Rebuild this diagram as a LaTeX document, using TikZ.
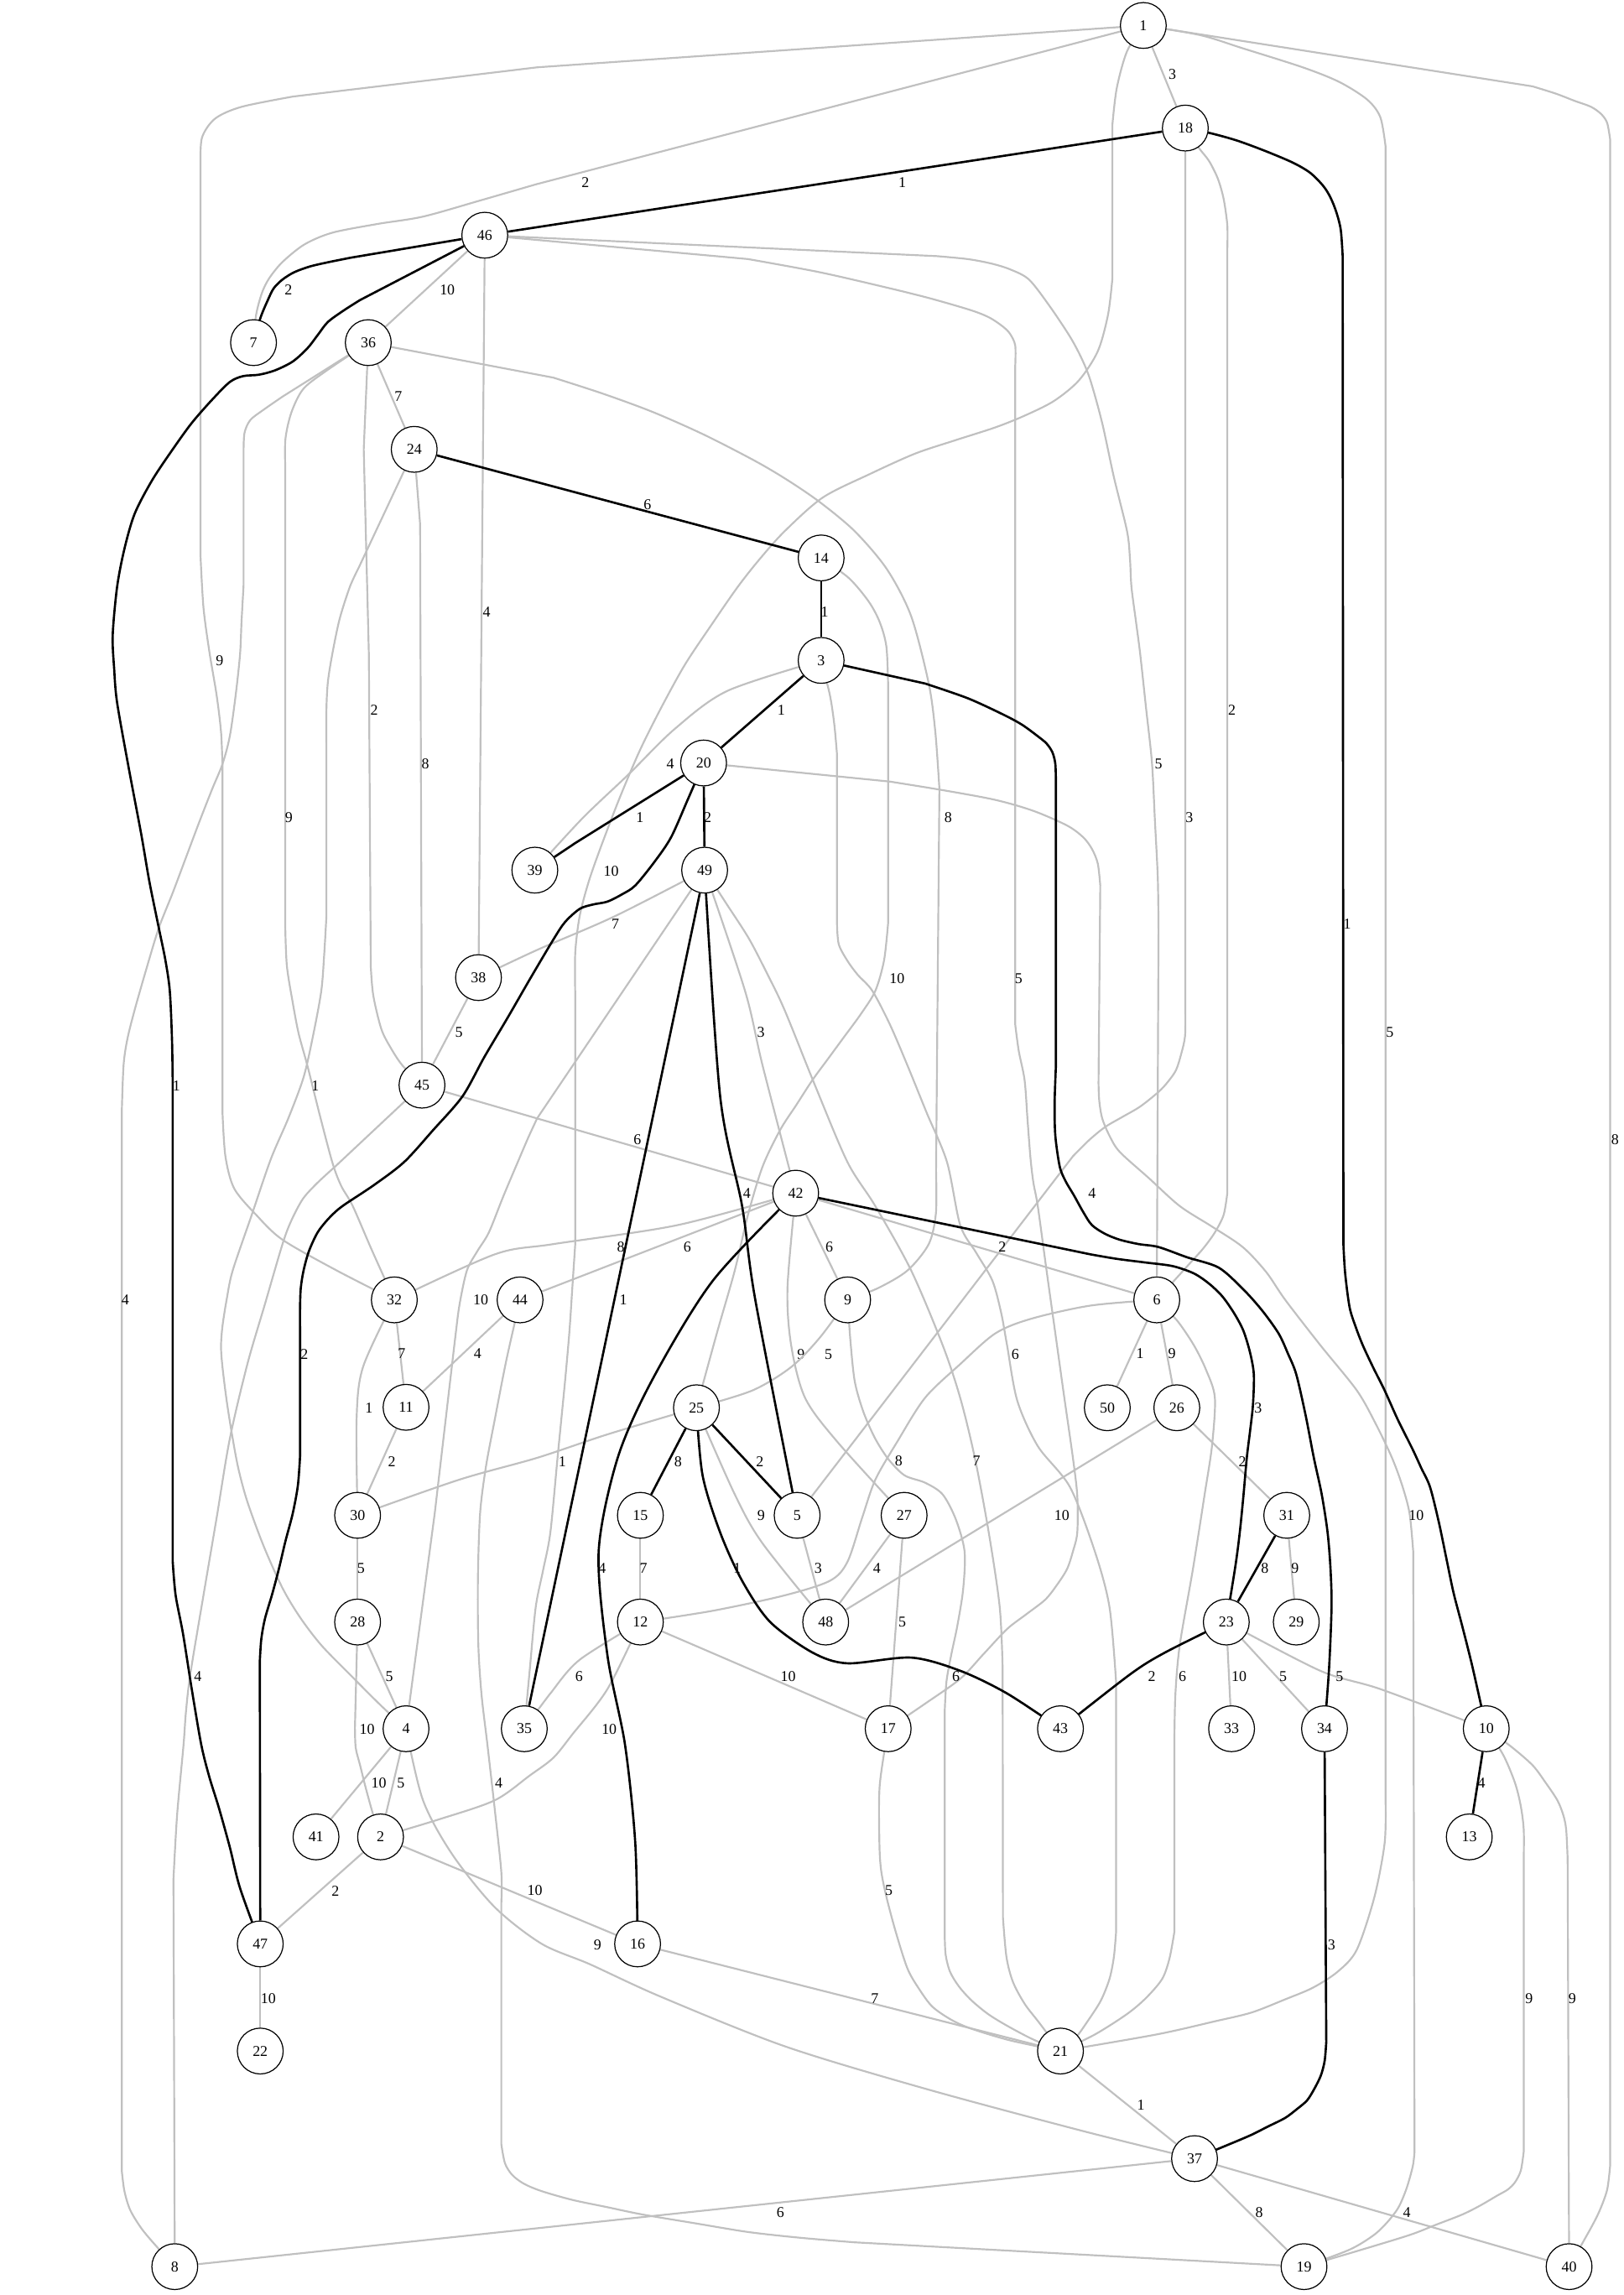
\documentclass[tikz,border=0pt]{standalone}
\usepackage{fontspec}
\setmainfont{Liberation Serif}
\usetikzlibrary{backgrounds}
\definecolor{edgegray}{RGB}{192,192,192}
\tikzset{
  vtx/.style={circle, draw=black, line width=0.35pt, fill=white, minimum size=0.546cm, inner sep=0pt, font=\fontsize{5.1}{6}\selectfont},
  ge/.style={draw=edgegray, line width=0.62pt, line join=round},
  be/.style={draw=black, line width=0.75pt, line join=round},
  lbl/.style={font=\fontsize{5.1}{6}\selectfont, inner sep=0pt},
  sm/.style={smooth, tension=0.5}
}
\begin{document}
\begin{tikzpicture}[x=0.017448cm, y=-0.017448cm]
\useasboundingbox (0,0) rectangle (1109,1568);
% ---------------- nodes
\node[vtx] (n1) at (781.1,17.4) {1};
\node[vtx] (n18) at (809.8,87.5) {18};
\node[vtx] (n46) at (331.2,160.7) {46};
\node[vtx] (n7) at (173.2,234.1) {7};
\node[vtx] (n36) at (251.6,234.1) {36};
\node[vtx] (n24) at (283,307) {24};
\node[vtx] (n14) at (561,381.2) {14};
\node[vtx] (n3) at (561,451.2) {3};
\node[vtx] (n20) at (480.7,521.3) {20};
\node[vtx] (n39) at (365.4,594.5) {39};
\node[vtx] (n49) at (481.4,594.5) {49};
\node[vtx] (n38) at (326.9,667.9) {38};
\node[vtx] (n45) at (288.3,741.4) {45};
\node[vtx] (n42) at (543.6,815.2) {42};
\node[vtx] (n32) at (269.4,888.1) {32};
\node[vtx] (n44) at (355.3,888.1) {44};
\node[vtx] (n9) at (579.1,888.1) {9};
\node[vtx] (n6) at (790.3,888.1) {6};
\node[vtx] (n11) at (277.4,961.5) {11};
\node[vtx] (n25) at (475.8,961.8) {25};
\node[vtx] (n50) at (756.5,961.8) {50};
\node[vtx] (n26) at (804,961.8) {26};
\node[vtx] (n30) at (244.3,1035.3) {30};
\node[vtx] (n15) at (437.5,1035.3) {15};
\node[vtx] (n5) at (544.6,1035.3) {5};
\node[vtx] (n27) at (617.7,1035.3) {27};
\node[vtx] (n31) at (879.1,1035.3) {31};
\node[vtx] (n28) at (244.3,1108.2) {28};
\node[vtx] (n12) at (437.5,1108.2) {12};
\node[vtx] (n48) at (564.1,1108.2) {48};
\node[vtx] (n23) at (837.8,1108.2) {23};
\node[vtx] (n29) at (885.6,1108.2) {29};
\node[vtx] (n4) at (277.4,1181.1) {4};
\node[vtx] (n35) at (358.2,1181.1) {35};
\node[vtx] (n17) at (606.8,1181.1) {17};
\node[vtx] (n43) at (724.5,1181.1) {43};
\node[vtx] (n33) at (841.4,1181.1) {33};
\node[vtx] (n34) at (904.9,1181.1) {34};
\node[vtx] (n10) at (1015.4,1181.1) {10};
\node[vtx] (n41) at (215.9,1255) {41};
\node[vtx] (n2) at (260,1255) {2};
\node[vtx] (n13) at (1003.8,1255) {13};
\node[vtx] (n47) at (177.8,1328.1) {47};
\node[vtx] (n16) at (435.6,1328.1) {16};
\node[vtx] (n22) at (177.8,1401.3) {22};
\node[vtx] (n21) at (724.5,1401.3) {21};
\node[vtx] (n37) at (816.1,1474.8) {37};
\node[vtx] (n8) at (119.4,1548.6) {8};
\node[vtx] (n19) at (890.9,1548.6) {19};
\node[vtx] (n40) at (1072,1548.6) {40};
% ---------------- edges
\begin{scope}[on background layer]
% ===== gray edges
\draw[ge] (n1) -- (n18) node[lbl,at={(801,51)}]{3};
\draw[ge] (n1) -- (366,126) --plot[sm] coordinates {(366,126) (328,137) (289,148) (258,153) (227,159) (208,167) (193,179) (184,190) (179,200) (175,215) (n7)} node[lbl,at={(400,124.6)}]{2};
\draw[ge] (n1) -- (367,46) -- (200,66) --plot[sm] coordinates {(200,66) (165,73) (147,81) (138,94) (137,112)} -- (137,380) --plot[sm] coordinates {(137,380) (139,415) (143,445) (148,475) (151,500) (152,523)} -- (152,760) --plot[sm] coordinates {(152,760) (154,790) (160,812) (175,830) (193,847) (230,868) (n32)} node[lbl,at={(150,451.3)}]{9};
\draw[ge] plot[sm] coordinates {(n1) (770,35) (763,60) (760,85)} -- (760,190) --plot[sm] coordinates {(760,190) (757,215) (750,240) (737,260) (720,274) (700,284) (680,292) (652,301) (625,310) (594,324) (562,340) (536,363) (519,382) (504,401) (486,427) (468,454) (452,483) (437,513) (423,546) (410,580) (402,603) (396,626) (393,651) (393,680)} -- (393,850) --plot[sm] coordinates {(393,850) (391,880) (389,910) (386,944) (381,995) (376,1047) (371,1073) (366,1098) (362,1140) (n35)} node[lbl,at={(417.5,595.1)}]{10};
\draw[ge] plot[sm] coordinates {(n1) (820,24) (849,33) (890,46) (915,56) (934,68) (943,80) (946.6,100)} -- (946.6,1230) --plot[sm] coordinates {(946.6,1230) (946,1259) (939,1296) (927,1332) (914,1347) (897,1358) (878,1366) (855,1375) (830,1381) (790,1390) (n21)} node[lbl,at={(949.5,705.1)}]{5};
\draw[ge] (n1) -- (1047,59) --plot[sm] coordinates {(1047,59) (1063,64) (1076,69) (1087,73) (1094,78) (1098,84) (1100,95)} -- (1100,1480) --plot[sm] coordinates {(1100,1480) (1098,1496) (1093,1510) (1087,1522) (n40)} node[lbl,at={(1103.4,778.6)}]{8};
\draw[ge] plot[sm] coordinates {(n18) (819,101) (826,110) (832,122) (836,136) (838.5,154) (838.5,170)} -- (838.5,815) --plot[sm] coordinates {(838.5,815) (836,830) (830,842) (822,853) (813,863) (n6)} node[lbl,at={(841.7,485.1)}]{2};
\draw[ge] (n18) -- (809.8,690) --plot[sm] coordinates {(809.8,690) (809.6,708) (807,720) (803.5,731) (798,739) (791.5,746) (779,756) (767,763) (755,770) (744,779) (733,790)} -- (n5) node[lbl,at={(812.5,558.5)}]{3};
\draw[ge] (n46) -- (n36) node[lbl,at={(305.6,197.8)}]{10};
\draw[ge] (n46) -- (n38) node[lbl,at={(332.4,418)}]{4};
\draw[ge] (n46) -- (511,177) --plot[sm] coordinates {(511,177) (560,186) (608,197) (636,204) (663.5,212) (676,217) (685,223) (690,228) (693.6,236) (693.6,250)} -- (693.6,700) --plot[sm] coordinates {(693.6,700) (696,718) (700,738) (702,765) (704,791) (706,808) (709,824) (715,868) (721,911) (727,954) (733,996) (736,1022) (736,1047) (733,1060) (729,1072) (722,1083) (714,1093) (701,1103) (688,1113) (672,1130) (656,1147) (632,1164) (n17)} node[lbl,at={(696,668.8)}]{5};
\draw[ge] (n46) -- (640,175) --plot[sm] coordinates {(640,175) (661,177) (677,180) (690,184) (703,191) (717,209) (731,230) (739,245) (745,260) (753,289) (761,326) (770,363) (772,382) (773,401) (776,424) (779,447) (783,484) (787,521) (789,560) (791,600) (791.5,636)} -- (n6) node[lbl,at={(791.5,521.7)}]{5};
\draw[ge] (n36) -- (n24) node[lbl,at={(272.1,270.7)}]{7};
\draw[ge] (n36) -- (248.5,307) -- (252,447) -- (253.3,660) --plot[sm] coordinates {(253.3,660) (255,680) (260.5,703) (267,716) (275,728) (n45)} node[lbl,at={(255.7,485.1)}]{2};
\draw[ge] (n36) -- (193,271) --plot[sm] coordinates {(193,271) (180,280) (171,287) (167,296) (166.4,310)} -- (166.4,400) --plot[sm] coordinates {(166.4,400) (165,425) (164,447) (161,475) (157,503) (152,522) (145,539) (136,562) (127,586) (118,610) (108.5,634) (100,662) (92,690) (87,710) (84.4,728) (83.2,760)} -- (83.2,1483) --plot[sm] coordinates {(83.2,1483) (85,1497) (89,1510) (97,1523) (108,1536) (n8)} node[lbl,at={(85.6,888.1)}]{4};
\draw[ge] plot[sm] coordinates {(n36) (222,254) (207,266) (199,282) (195,300) (194.9,320)} -- (194.9,634) --plot[sm] coordinates {(194.9,634) (196,660) (200,685) (204,706) (210,728) (218,760) (227,794) (233,810) (241,824) (254,854) (n32)} node[lbl,at={(197.3,558.5)}]{9};
\draw[ge] (n36) -- (378,258) --plot[sm] coordinates {(378,258) (412,269) (446,281.5) (481,297) (516,315) (538,328) (560,343) (584,363) (606,389) (622.5,421) (634.5,467) (639,500) (641.8,539)} -- (639.5,800) --plot[sm] coordinates {(639.5,800) (639.4,829) (634.5,850) (620,868) (600,880) (n9)} node[lbl,at={(647.8,558.5)}]{8};
\draw[ge] (n24) -- (287,358) -- (n45) node[lbl,at={(290.6,521.7)}]{8};
\draw[ge] (n24) -- (245,388) --plot[sm] coordinates {(245,388) (239,401) (232,423) (227,447) (224,466) (223,485) (223,510)} -- (223,626) --plot[sm] coordinates {(223,626) (221.5,652) (219.5,677) (214,707) (207.4,736) (197,764) (185,792) (172,830) (159,868) (155,887) (152,906) (151,920) (152,934) (155,958) (159,983) (163,1004) (169,1026) (180,1056) (193,1085) (205,1105) (219.5,1124) (240,1145) (260,1165) (n4)} node[lbl,at={(215.4,742.2)}]{1};
\draw[ge] plot[sm] coordinates {(n14) (580,395) (593.5,411) (601,425) (605.6,442) (606.8,470)} -- (606.8,630) --plot[sm] coordinates {(606.8,630) (604,656) (598,677) (588,693) (577,708) (566,723) (555,738) (544,755) (533,772) (521,797) (511,830) (502,868) (490,910) (n25)} node[lbl,at={(612.8,668.8)}]{10};
\draw[ge] plot[sm] coordinates {(n3) (497,472) (461,498) (429.5,529) (398,559) (n39)} node[lbl,at={(458,521.7)}]{4};
\draw[ge] plot[sm] coordinates {(n3) (567,475) (570,495) (571.8,515)} -- (571.8,630) --plot[sm] coordinates {(571.8,630) (573,645) (579,656.5) (586,666) (596,677) (608,700) (620,728) (633,760) (647,794) (656,837) (667,856) (678,875) (684,897) (688,919) (695,957) (709,988) (731,1016) (748,1060) (758,1098) (762.5,1149)} -- (762.5,1320) --plot[sm] coordinates {(762.5,1320) (761,1337) (758,1352) (752,1367) (743,1381) (735,1392) (n21)} node[lbl,at={(693.6,925.2)}]{6};
\draw[ge] (n20) -- (608,534) --plot[sm] coordinates {(608,534) (645,540) (680,546.5) (706,554) (729,564) (740,572) (746,580) (750,590) (751.7,605)} -- (750.5,740) --plot[sm] coordinates {(750.5,740) (751,752) (753,764) (758,776) (765,787) (785,805) (806,824) (828,838) (849,852) (865,869) (878,888) (902,919) (927,950) (940,973) (951,996) (958,1015) (963,1034) (965.5,1060)} -- (966.4,1470) --plot[sm] coordinates {(966.4,1470) (965.2,1480) (961,1495) (955.5,1508) (948,1518) (938.6,1527) (922,1537) (n19)} node[lbl,at={(967.6,1035.3)}]{10};
\draw[ge] plot[sm] coordinates {(n49) (420,626) (367,649) (n38)} node[lbl,at={(420.4,631.4)}]{7};
\draw[ge] (n49) -- (367,764) --plot[sm] coordinates {(367,764) (361,777) (355,791) (344,817) (334,842) (326,855) (319,868) (314,891) (311,914) (304,974) (297,1034)} -- (n4) node[lbl,at={(328.5,888.1)}]{10};
\draw[ge] plot[sm] coordinates {(n49) (509,677) (521,728) (n42)} node[lbl,at={(519.9,705.1)}]{3};
\draw[ge] plot[sm] coordinates {(n49) (496,617) (511.5,641) (524,665) (536,690) (557,742) (579,794) (598,824) (622.5,868) (644,919) (656,955) (666,996) (675.5,1047) (683,1098) (685,1140)} -- (685.2,1310) --plot[sm] coordinates {(685.2,1310) (687.6,1337) (692,1354) (700,1369) (710,1382) (n21)} node[lbl,at={(667.1,998.2)}]{7};
\draw[ge] (n38) -- (n45) node[lbl,at={(313.6,705.1)}]{5};
\draw[ge] (n45) -- (n42) node[lbl,at={(435.5,778.6)}]{6};
\draw[ge] (n45) -- (229,797) --plot[sm] coordinates {(229,797) (217,808) (207,819) (199,834) (193,850) (181,891) (169,932) (157,983) (148,1037) (139,1090) (130,1144) (127,1170) (125.4,1192) (121,1240) (118.5,1284)} -- (n8) node[lbl,at={(135.1,1145.3)}]{4};
\draw[ge] plot[sm] coordinates {(n42) (463,837) (378,850) (338,857) (n32)} node[lbl,at={(424.1,852)}]{8};
\draw[ge] (n42) -- (n44) node[lbl,at={(469.6,852)}]{6};
\draw[ge] (n42) -- (n9) node[lbl,at={(566.5,851.8)}]{6};
\draw[ge] (n42) -- (n6) node[lbl,at={(684.7,851.8)}]{2};
\draw[ge] plot[sm] coordinates {(n42) (538,880) (540.5,919) (550,955) (572,985) (n27)} node[lbl,at={(547.2,925.2)}]{9};
\draw[ge] (n44) -- (n11) node[lbl,at={(326.3,924.7)}]{4};
\draw[ge] plot[sm] coordinates {(n44) (346,929) (338,970) (332,1002) (328,1034) (326.5,1079) (326.8,1124) (329,1158) (333,1192) (338,1236) (342.5,1279) (342.5,1300)} -- (342.5,1465) --plot[sm] coordinates {(342.5,1465) (345,1478) (350,1486) (358,1492) (370,1497) (391,1503) (415,1508) (439,1513) (475,1519) (511.5,1525) (548,1529) (584,1532)} -- (n19) node[lbl,at={(340.8,1218)}]{4};
\draw[ge] (n32) -- (n11) node[lbl,at={(274.5,924.7)}]{7};
\draw[ge] plot[sm] coordinates {(n32) (248,934) (243.6,970) (n30)} node[lbl,at={(252.1,961.8)}]{1};
\draw[ge] (n11) -- (n30) node[lbl,at={(267.7,998.7)}]{2};
\draw[ge] (n30) -- (n28) node[lbl,at={(246.7,1071.6)}]{5};
\draw[ge] (n28) -- (n4) node[lbl,at={(266,1145.3)}]{5};
\draw[ge] (n28) -- (242.5,1180) --plot[sm] coordinates {(242.5,1180) (243,1194) (246,1206) (250,1222) (255,1240) (n2)} node[lbl,at={(250.8,1181.7)}]{10};
\draw[ge] (n4) -- (n41) node[lbl,at={(258.8,1218)}]{10};
\draw[ge] (n4) -- (n2) node[lbl,at={(273.8,1218)}]{5};
\draw[ge] plot[sm] coordinates {(n4) (289,1230) (309,1267) (338,1303) (370,1328) (403,1342) (451,1364) (536,1398) (632,1427) (740,1456) (n37)} node[lbl,at={(408.3,1328.8)}]{9};
\draw[ge] plot[sm] coordinates {(n12) (396,1134) (376,1157) (n35)} node[lbl,at={(395.7,1145.3)}]{6};
\draw[ge] (n12) -- (n17) node[lbl,at={(538.5,1145.3)}]{10};
\draw[ge] plot[sm] coordinates {(n12) (415,1154) (391,1185) (378,1201) (362,1213) (338,1230) (300,1243) (n2)} node[lbl,at={(416.2,1181.7)}]{10};
\draw[ge] (n15) -- (n12) node[lbl,at={(439.6,1071.6)}]{7};
\draw[ge] plot[sm] coordinates {(n9) (560,914) (540.5,934) (514,950) (n25)} node[lbl,at={(566,925.2)}]{5};
\draw[ge] plot[sm] coordinates {(n25) (415,980) (367,996) (313.6,1011) (n30)} node[lbl,at={(384.2,998.7)}]{1};
\draw[ge] plot[sm] coordinates {(n25) (502,1021) (521,1054.5) (n48)} node[lbl,at={(520,1035.3)}]{9};
\draw[ge] (n5) -- (n48) node[lbl,at={(559,1071.6)}]{3};
\draw[ge] (n27) -- (n48) node[lbl,at={(599.1,1071.6)}]{4};
\draw[ge] (n27) -- (n17) node[lbl,at={(616.4,1108.2)}]{5};
\draw[ge] (n26) -- (n48) node[lbl,at={(725.5,1035.3)}]{10};
\draw[ge] (n26) -- (n31) node[lbl,at={(848.8,998.7)}]{2};
\draw[ge] (n6) -- (n50) node[lbl,at={(778.9,924.7)}]{1};
\draw[ge] (n6) -- (n26) node[lbl,at={(800.7,924.7)}]{9};
\draw[ge] plot[sm] coordinates {(n6) (745,892) (704.5,901) (680,911) (656,932) (632,955) (613,985) (598,1011) (589,1037) (579,1067) (567,1080) (536,1090) (487,1100.5) (n12)} node[lbl,at={(614,998.2)}]{8};
\draw[ge] plot[sm] coordinates {(n6) (804,902) (815.6,919) (824,936) (830,955) (828,988) (823,1021) (815,1072) (806,1124) (803,1158) (802.3,1192)} -- (802.3,1320) --plot[sm] coordinates {(802.3,1320) (799,1338) (794,1352) (783,1365) (770,1376) (748,1390) (n21)} node[lbl,at={(807.9,1145.3)}]{6};
\draw[ge] plot[sm] coordinates {(n9) (581,916) (584,944) (590,965) (598,983) (607,997) (618,1008) (632,1013) (644,1021) (653,1038) (659,1060) (658,1086) (654,1111) (650,1130) (646.6,1149) (645.4,1170)} -- (645.4,1320) --plot[sm] coordinates {(645.4,1320) (646,1335) (649,1347) (655,1357) (663.5,1366.5) (675,1376) (688,1384) (705,1393) (n21)} node[lbl,at={(653.1,1145.3)}]{6};
\draw[ge] (n31) -- (n29) node[lbl,at={(884.8,1071.6)}]{9};
\draw[ge] (n23) -- (n33) node[lbl,at={(846.5,1145.3)}]{10};
\draw[ge] (n23) -- (n34) node[lbl,at={(876.6,1145.3)}]{5};
\draw[ge] plot[sm] coordinates {(n23) (902,1141.5) (943,1154) (n10)} node[lbl,at={(915.2,1145.3)}]{5};
\draw[ge] plot[sm] coordinates {(n10) (1027,1199) (1035,1218) (1039,1234) (1041,1250) (1041,1270)} -- (1041,1470) --plot[sm] coordinates {(1041,1470) (1039,1483) (1035,1491) (1030,1496) (1023,1500) (1011,1507) (999,1513) (981,1520) (963,1527) (927,1538) (n19)} node[lbl,at={(1044.7,1365.3)}]{9};
\draw[ge] plot[sm] coordinates {(n10) (1032,1193) (1047,1206) (1056,1218) (1064,1230) (1068,1240) (1070,1250) (1071,1270)} -- (n40) node[lbl,at={(1074.2,1365.3)}]{9};
\draw[ge] (n2) -- (n47) node[lbl,at={(229.1,1291.8)}]{2};
\draw[ge] (n2) -- (n16) node[lbl,at={(365.4,1291.8)}]{10};
\draw[ge] (n47) -- (n22) node[lbl,at={(183.3,1365.3)}]{10};
\draw[ge] plot[sm] coordinates {(n17) (601,1220) (600.8,1259) (602,1278) (605.6,1296) (612,1320) (620,1345) (628,1359) (637,1371) (650,1380) (663.5,1386) (690,1394) (n21)} node[lbl,at={(607.3,1291.8)}]{5};
\draw[ge] (n16) -- (n21) node[lbl,at={(597.6,1365.3)}]{7};
\draw[ge] (n21) -- (n37) node[lbl,at={(779.4,1438.3)}]{1};
\draw[ge] (n37) -- (n8) node[lbl,at={(533.2,1511.8)}]{6};
\draw[ge] (n37) -- (n19) node[lbl,at={(860.2,1511.8)}]{8};
\draw[ge] (n37) -- (n40) node[lbl,at={(961.1,1511.8)}]{4};
% ===== black edges
\draw[be] (n18) -- (n46) node[lbl,at={(616.4,124.6)}]{1};
\draw[be] plot[sm] coordinates {(n18) (827,91) (845,96) (864,103) (883,111) (895,118) (904,127) (909,135) (913,145) (916,157) (917.3,175)} -- (917.8,850) --plot[sm] coordinates {(917.8,850) (919,870) (922,893) (926,906) (931,919) (938,934) (946,950) (955,970) (965,990) (971,1003) (977,1016) (983,1040) (988,1064) (993,1088) (999,1111) (1006,1139) (n10)} node[lbl,at={(920.5,631.4)}]{1};
\draw[be] (n46) -- (240,176) --plot[sm] coordinates {(240,176) (225,179) (212,182) (201,186) (193,191) (187,197) (183,205) (178,217) (n7)} node[lbl,at={(197,197.8)}]{2};
\draw[be] (n46) -- (246,205) --plot[sm] coordinates {(246,205) (235,212) (224,220) (217,229) (210,238) (200,247) (188,253) (177,256) (166,257) (157,261) (145,273) (131,289) (118,307) (104,328) (92,351) (85,375) (80,401) (77,434) (78,457) (80,480) (88,525) (96.5,570) (102,602) (108.5,634) (113,656) (116,677) (117.5,710) (118,740)} -- (118,1067) --plot[sm] coordinates {(118,1067) (120,1090) (125,1116) (131,1154) (137.5,1192) (143,1214) (149.5,1235) (157,1262) (164,1290) (n47)} node[lbl,at={(120.6,742.2)}]{1};
\draw[be] (n24) -- (n14) node[lbl,at={(442.3,345)}]{6};
\draw[be] (n14) -- (n3) node[lbl,at={(563.4,418)}]{1};
\draw[be] (n3) -- (n20) node[lbl,at={(533.7,485.1)}]{1};
\draw[be] (n3) -- (632,467) --plot[sm] coordinates {(632,467) (661,477) (685,488) (698,495) (709,503) (715,508) (719,514) (721,522) (721.4,535)} -- (721.4,728) --plot[sm] coordinates {(721.4,728) (720.5,754) (721,776) (724,797) (728,807) (733.6,816.5) (740,828) (746,837) (755,843) (765,847) (778,850) (791.5,852) (811,859) (832.5,866) (849,880.5) (862,895) (873.5,911) (880,925) (885.6,939) (892,967) (897.6,996) (903,1021) (907,1047) (909,1072) (909.7,1098) (908,1140) (n34)} node[lbl,at={(746.1,815.2)}]{4};
\draw[be] (n20) -- (393,576) -- (n39) node[lbl,at={(437.2,558.5)}]{1};
\draw[be] (n20) -- (n49) node[lbl,at={(483.5,558.5)}]{2};
\draw[be] plot[sm] coordinates {(n20) (470,546) (458.5,572) (447,589) (434,605) (425,611) (415,616) (405,618) (396,621) (386,630) (378,642) (362,669) (347,695) (331,722) (316,749) (296,772) (276,794) (255,810) (234,824) (225,832) (217,842) (211,855) (207.4,868) (205.5,880) (205,893) (205,910)} -- (205,995) --plot[sm] coordinates {(205,995) (203.5,1015) (200,1034) (195,1053) (190.5,1072) (186,1089) (181,1106) (178.5,1120) (177.5,1135)} -- (n47) node[lbl,at={(207.9,925.2)}]{2};
\draw[be] (n49) -- (n35) node[lbl,at={(425.9,888.1)}]{1};
\draw[be] plot[sm] coordinates {(n49) (492,749) (507,824) (516,888) (n5)} node[lbl,at={(510.3,815.2)}]{4};
\draw[be] (n42) -- (745,857) --plot[sm] coordinates {(745,857) (762.5,860) (782,862.5) (801,865) (815.6,870) (826,877) (835,885.6) (843,897) (849.4,909) (854,924) (856.6,939) (856,960) (854,978) (851.8,996) (849.5,1022) (847,1047) (844,1070) (n23)} node[lbl,at={(859.5,961.8)}]{3};
\draw[be] plot[sm] coordinates {(n42) (487,875) (446,942) (422,996) (409,1060) (415,1131) (427,1192) (434,1259) (n16)} node[lbl,at={(411.4,1071.6)}]{4};
\draw[be] (n25) -- (n15) node[lbl,at={(463.3,998.7)}]{8};
\draw[be] (n25) -- (n5) node[lbl,at={(519.2,998.7)}]{2};
\draw[be] plot[sm] coordinates {(n25) (480,1008) (492,1047) (507,1080) (526,1108) (555,1129) (579,1136.4) (622.5,1132.5) (656,1141.5) (688,1157) (n43)} node[lbl,at={(503.6,1071.6)}]{1};
\draw[be] (n31) -- (n23) node[lbl,at={(864.1,1071.6)}]{8};
\draw[be] plot[sm] coordinates {(n23) (796,1129) (772,1144) (n43)} node[lbl,at={(786.9,1145.3)}]{2};
\draw[be] (n34) -- (906.1,1395) --plot[sm] coordinates {(906.1,1395) (905,1408) (902.4,1418) (898,1427) (893,1435) (886,1441) (878,1447) (866,1453) (854,1459) (835,1467) (n37)} node[lbl,at={(909.7,1328.8)}]{3};
\draw[be] (n10) -- (n13) node[lbl,at={(1012.2,1218)}]{4};
\end{scope}
\end{tikzpicture}
\end{document}
